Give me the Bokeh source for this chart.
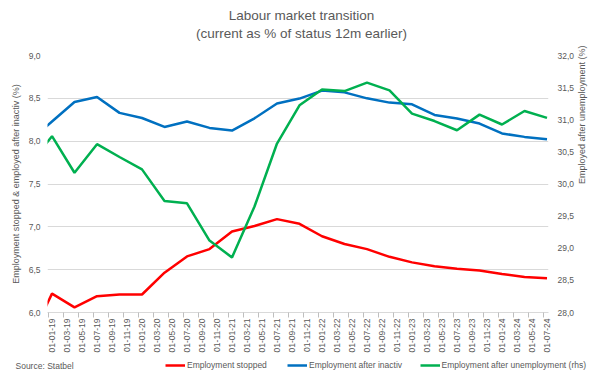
import math
from bokeh.plotting import figure
from bokeh.layouts import column
from bokeh.models import (Range1d, LinearAxis, FixedTicker, CustomJSTickFormatter,
                          Legend, LegendItem, Label)
from bokeh.embed import file_html
from bokeh.resources import INLINE

# ---------------- data ----------------
dates = ["01-10-18",
         "01-01-19", "01-04-19", "01-07-19", "01-10-19",
         "01-01-20", "01-04-20", "01-07-20", "01-10-20",
         "01-01-21", "01-04-21", "01-07-21", "01-10-21",
         "01-01-22", "01-04-22", "01-07-22", "01-10-22",
         "01-01-23", "01-04-23", "01-07-23", "01-10-23",
         "01-01-24", "01-04-24", "01-07-24"]

employment_stopped = [5.67,
                      6.22, 6.06, 6.19, 6.21,
                      6.21, 6.465, 6.655, 6.74,
                      6.945, 7.01, 7.09, 7.035,
                      6.89, 6.80, 6.74, 6.65,
                      6.585, 6.54, 6.51, 6.49,
                      6.45, 6.415, 6.40]

employment_after_inactiv = [8.00,
                            8.23, 8.457, 8.515, 8.33,
                            8.27, 8.166, 8.23, 8.155,
                            8.124, 8.267, 8.44, 8.497,
                            8.59, 8.57, 8.50, 8.45,
                            8.43, 8.306, 8.264, 8.206,
                            8.09, 8.05, 8.023]

employment_after_unemployment = [30.30,
                                 30.744, 30.175, 30.62, 30.42,
                                 30.228, 29.736, 29.70, 29.12,
                                 28.857, 29.65, 30.63, 31.225,
                                 31.47, 31.446, 31.577, 31.457,
                                 31.096, 30.98, 30.837, 31.08,
                                 30.926, 31.137, 31.03]

tick_labels = ["01-01-19", "01-03-19", "01-05-19", "01-07-19", "01-09-19", "01-11-19",
               "01-01-20", "01-03-20", "01-05-20", "01-07-20", "01-09-20", "01-11-20",
               "01-01-21", "01-03-21", "01-05-21", "01-07-21", "01-09-21", "01-11-21",
               "01-01-22", "01-03-22", "01-05-22", "01-07-22", "01-09-22", "01-11-22",
               "01-01-23", "01-03-23", "01-05-23", "01-07-23", "01-09-23", "01-11-23",
               "01-01-24", "01-03-24", "01-05-24", "01-07-24"]

left_ticks = [6.0, 6.5, 7.0, 7.5, 8.0, 8.5, 9.0]
right_ticks = [28.0, 28.5, 29.0, 29.5, 30.0, 30.5, 31.0, 31.5, 32.0]

series_names = ["Employment stopped", "Employment after inactiv",
                "Employment after unemployment (rhs)"]
series_colors = ["#FF0000", "#0070C0", "#00B050"]

title_line1 = "Labour market transition"
title_line2 = "(current as % of status 12m earlier)"
left_title = "Employment stopped & employed after inactiv (%)"
right_title = "Employed after unemployment (%)"
source_text = "Source: Statbel"


def month_index(s):
    d, m, y = s.split("-")
    return (2000 + int(y) - 2019) * 12 + (int(m) - 1)


x = [month_index(d) for d in dates]
tick_pos = [month_index(t) for t in tick_labels]

FONT = "Liberation Sans"
GREY = "#595959"


def strip(height):
    s = figure(width=602, height=height, output_backend="svg", toolbar_location=None,
               x_range=Range1d(0, 602), y_range=Range1d(0, height),
               x_axis_type=None, y_axis_type=None,
               min_border_left=0, min_border_right=0, min_border_top=0,
               min_border_bottom=0)
    s.frame_align = False
    s.outline_line_color = None
    s.xgrid.visible = False
    s.ygrid.visible = False
    return s


# ---------------- top strip: two-line title ----------------
t = strip(44)
for txt, yy in [(title_line1, 29), (title_line2, 11)]:
    t.add_layout(Label(x=301, y=yy, x_units="screen", y_units="screen", text=txt,
                       text_align="center", text_baseline="middle", text_font=FONT,
                       text_font_size="13.5px", text_color=GREY))

# ---------------- main chart ----------------
p = figure(width=602, height=311, output_backend="svg", toolbar_location=None,
           x_range=Range1d(-0.6, 66.2), y_range=Range1d(6, 9),
           min_border_left=47, min_border_right=54, min_border_top=11,
           min_border_bottom=42)
p.outline_line_color = None
p.frame_align = False
p.title.text = ""
p.title.standoff = 0
p.extra_y_ranges = {"rhs": Range1d(28, 32)}

r1 = p.line(x, employment_stopped, line_color=series_colors[0], line_width=2.5)
r2 = p.line(x, employment_after_inactiv, line_color=series_colors[1], line_width=2.5)
r3 = p.line(x, employment_after_unemployment, line_color=series_colors[2], line_width=2.5,
            y_range_name="rhs")

fmt = CustomJSTickFormatter(code="return tick.toFixed(1).replace('.', ',')")

# left axis
ya = p.yaxis[0]
ya.ticker = FixedTicker(ticks=left_ticks)
ya.formatter = fmt
ya.axis_line_color = None
ya.major_tick_line_color = None
ya.minor_tick_line_color = None
ya.major_tick_out = 0
ya.minor_tick_out = 0
ya.major_label_standoff = 7
ya.major_label_text_font = FONT
ya.major_label_text_font_size = "8.5px"
ya.major_label_text_color = GREY
ya.axis_label = left_title
ya.axis_label_standoff = 5
ya.axis_label_text_font = FONT
ya.axis_label_text_font_size = "9px"
ya.axis_label_text_font_style = "normal"
ya.axis_label_text_color = GREY

# right axis
ra = LinearAxis(y_range_name="rhs", ticker=FixedTicker(ticks=right_ticks), formatter=fmt)
ra.axis_line_color = None
ra.major_tick_line_color = None
ra.minor_tick_line_color = None
ra.major_tick_out = 0
ra.minor_tick_out = 0
ra.major_label_standoff = 9
ra.major_label_text_font = FONT
ra.major_label_text_font_size = "8.5px"
ra.major_label_text_color = GREY
ra.axis_label = right_title
ra.axis_label_standoff = 5
ra.axis_label_text_font = FONT
ra.axis_label_text_font_size = "9px"
ra.axis_label_text_font_style = "normal"
ra.axis_label_text_color = GREY
try:
    ra.axis_label_orientation = math.pi / 2
except Exception:
    pass
p.add_layout(ra, "right")

# x axis
xa = p.xaxis[0]
xa.ticker = FixedTicker(ticks=tick_pos, minor_ticks=[t_ - 0.5 for t_ in tick_pos])
xa.major_label_overrides = {t_: l for t_, l in zip(tick_pos, tick_labels)}
xa.major_label_orientation = math.pi / 2
xa.major_tick_line_color = None
xa.major_tick_out = 0
xa.major_tick_in = 0
xa.minor_tick_line_color = "#bfbfbf"
xa.minor_tick_out = 5
xa.minor_tick_in = 0
xa.axis_line_color = "#d9d9d9"
xa.major_label_standoff = 1
xa.major_label_text_font = FONT
xa.major_label_text_font_size = "8.5px"
xa.major_label_text_color = GREY

p.xgrid.visible = False
p.ygrid.grid_line_color = "#d9d9d9"
p.ygrid.grid_line_width = 1

# ---------------- bottom strip: source note and legend ----------------
q = strip(28)
q.add_layout(Label(x=15, y=18, x_units="screen", y_units="screen", text=source_text,
                   text_align="left", text_baseline="middle", text_font=FONT,
                   text_font_size="8.5px", text_color=GREY))

legend_x = [165, 287, 419.5]
nan = float("nan")
for name, col, lx in zip(series_names, series_colors, legend_x):
    sw = q.line([nan], [nan], line_color=col, line_width=2.5)
    lg = Legend(items=[LegendItem(label=name, renderers=[sw])], location=(lx, 13),
                orientation="horizontal", padding=0, margin=0, spacing=0,
                glyph_width=20, glyph_height=10, label_height=10, label_standoff=2,
                border_line_color=None, background_fill_alpha=0,
                label_text_font=FONT, label_text_font_size="8.5px",
                label_text_color=GREY)
    q.add_layout(lg)

layout = column(t, p, q, spacing=0)
open("out.html", "w").write(file_html(layout, INLINE))
